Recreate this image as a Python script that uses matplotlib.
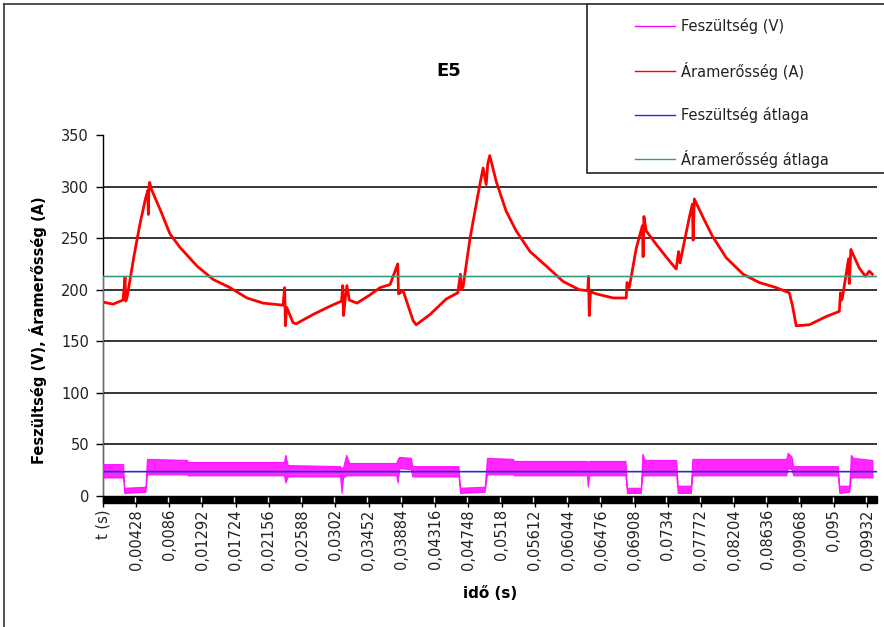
import numpy as np
import matplotlib
matplotlib.use("Agg")
import matplotlib.pyplot as plt
from matplotlib.lines import Line2D
from matplotlib.patches import Rectangle

# ----------------- DATA -----------------
# current, Áramerősség (A): time in ms, value in A
cur_t = [0.0, 1.3, 2.6, 2.85, 2.95, 3.15, 4.0, 4.8, 5.5, 5.8, 5.88, 5.95, 6.05, 6.3,
         7.4, 8.7, 10.0, 12.2, 14.3, 16.5, 18.7, 20.8, 23.4, 23.6, 23.7, 23.85,
         24.7, 25.1, 27.3, 29.5, 31.0, 31.15, 31.25, 31.5, 31.7, 32.0, 33.0, 34.7,
         36.0, 37.3, 38.3, 38.4, 39.0, 40.3, 40.7, 42.5, 44.6, 46.1, 46.45, 46.6,
         46.8, 47.7, 48.9, 49.4, 49.8, 50.0, 50.26, 50.6, 51.1, 52.4, 53.7, 55.5,
         57.6, 59.8, 61.9, 63.0, 63.1, 63.2, 63.35, 64.1, 66.3, 68.0, 68.1, 68.4,
         69.3, 70.1, 70.2, 70.3, 70.6, 71.9, 73.6, 74.5, 74.8, 75.0, 75.4, 76.2,
         76.6, 76.7, 76.85, 78.0, 79.2, 81.0, 83.2, 85.3, 87.5, 89.2, 89.6, 90.1,
         91.8, 94.0, 95.7, 95.85, 96.0, 96.1, 96.9, 97.0, 97.2, 98.3, 99.1, 99.6, 100.0]
cur_v = [188, 186, 190, 212, 189, 194, 232, 264, 288, 296, 273, 299, 304, 297,
         278, 254, 241, 223, 210, 202, 192, 187, 185, 202, 165, 183,
         168, 167, 176, 184, 189, 204, 175, 193, 204, 190, 187, 195,
         202, 205, 225, 196, 199, 170, 166, 176, 191, 197, 215, 200,
         203, 250, 299, 318, 302, 322, 330, 320, 305, 276, 257, 237,
         223, 208, 200, 199, 213, 175, 198, 196, 192, 192, 207, 202,
         240, 262, 232, 271, 257, 244, 228, 220, 237, 226, 241, 270,
         283, 248, 288, 270, 252, 231, 215, 207, 202, 197, 185, 165,
         166, 174, 179, 197, 190, 192, 230, 206, 239, 221, 213, 218, 215]

# voltage, Feszültség (V): the trace is a dense band, kept as low / high envelope
volt_t = [0.0, 2.6, 2.75, 5.5, 5.7, 10.9, 11.0, 23.5, 23.7, 24.0, 30.8, 31.0, 31.2,
          31.6, 32.0, 38.1, 38.3, 38.5, 40.0, 40.2, 46.2, 46.4, 49.6, 49.9, 53.3,
          53.4, 62.9, 63.0, 63.2, 67.9, 68.1, 69.9, 70.1, 70.4, 74.5, 74.7, 76.4,
          76.6, 88.8, 89.0, 89.5, 89.7, 95.5, 95.7, 97.0, 97.2, 97.5, 100.0]
volt_lo = [18, 18, 3, 4, 21, 21, 20, 20, 13, 19, 19, 3, 18,
           20, 20, 20, 13, 27, 26, 19, 19, 3, 4, 21, 21,
           20, 20, 9, 20, 20, 3, 3, 20, 20, 20, 3, 3,
           20, 20, 27, 26, 20, 20, 3, 4, 18, 18, 18]
volt_hi = [31, 31, 8, 9, 36, 35, 33, 33, 40, 30, 29, 27, 28,
           40, 32, 32, 36, 38, 37, 29, 29, 8, 9, 37, 36,
           34, 34, 33, 34, 34, 8, 8, 41, 35, 35, 10, 10,
           36, 36, 42, 38, 29, 29, 10, 10, 40, 37, 35]

# averages (first category is the header row -> 0)
avg_t = [-0.02, 0.0, 100.6]
volt_avg = [0, 23.6, 23.6]
cur_avg = [0, 212.8, 212.8]

# category labels shown on the time axis (s)
tick_vals = [0.00428, 0.0086, 0.01292, 0.01724, 0.02156, 0.02588, 0.0302, 0.03452,
             0.03884, 0.04316, 0.04748, 0.0518, 0.05612, 0.06044, 0.06476, 0.06908,
             0.0734, 0.07772, 0.08204, 0.08636, 0.09068, 0.095, 0.09932]
y_ticks = [0, 50, 100, 150, 200, 250, 300, 350]

series_names = ["Feszültség (V)", "Áramerősség (A)", "Feszültség átlaga", "Áramerősség átlaga"]
series_colors = ["#ff00ff", "#ff0000", "#2b2bd0", "#3a9a80"]
# -----------------------------------------------------------------

W, H = 884, 627
fig = plt.figure(figsize=(W / 100, H / 100), dpi=100)
ax = fig.add_axes([103 / W, 1 - 496 / H, (877 - 103) / W, (496 - 135) / H])

ms = 1 / 1000.0
ax.fill_between(np.array(volt_t) * ms, volt_lo, volt_hi, color=series_colors[0],
                lw=0.8, alpha=0.85, zorder=3)
ax.plot(np.array(cur_t) * ms, cur_v, color=series_colors[1], lw=2.0, zorder=4)
ax.plot(np.array(avg_t) * ms, volt_avg, color=series_colors[2], lw=1.2, zorder=5)
ax.plot(np.array(avg_t) * ms, cur_avg, color=series_colors[3], lw=1.2, zorder=5)

ax.set_xlim(-0.013 * ms, 100.6 * ms)
ax.set_ylim(0, 350)

# gridlines
for yv in y_ticks[1:-1]:
    ax.axhline(yv, color="black", lw=1.1, zorder=1)

ax.spines["top"].set_visible(False)
ax.spines["right"].set_visible(False)
ax.spines["bottom"].set_visible(False)
ax.spines["left"].set_color("black")
ax.spines["left"].set_linewidth(1.0)

ax.set_yticks(y_ticks)
ax.set_yticklabels([str(v) for v in y_ticks])
ax.tick_params(axis="y", direction="out", length=5, width=1, pad=5,
               labelsize=10.5, colors="black", labelcolor="#222222")

xt = [0.0] + tick_vals
ax.set_xticks(xt)
ax.set_xticklabels(["t (s)"] + [str(v).replace(".", ",") for v in tick_vals],
                   rotation=90)
ax.tick_params(axis="x", direction="out", length=8, width=1, pad=1.5,
               labelsize=10.5, colors="black", labelcolor="#222222")

# dense category ticks -> black band under the axis
band_h = 7 / (496 - 135)
ax.add_patch(Rectangle((ax.get_xlim()[0], -band_h), ax.get_xlim()[1] - ax.get_xlim()[0],
                       band_h, transform=ax.get_xaxis_transform(), color="black",
                       clip_on=False, zorder=6))
ax.vlines([v - 0.00018 for v in xt[1:]], -band_h * 0.9, -0.002,
          transform=ax.get_xaxis_transform(), color="white", lw=1.0,
          clip_on=False, zorder=7)

fig.text(448.6 / W, 1 - 71.5 / H, "E5", ha="center", va="center",
         fontsize=13, fontweight="bold")
fig.text(490 / W, 1 - 594 / H, "idő (s)", ha="center", va="center",
         fontsize=11, fontweight="bold")
fig.text(38 / W, 1 - 330 / H, "Feszültség (V), Áramerősség (A)", ha="center",
         va="center", rotation=90, fontsize=10.5, fontweight="bold")

# chart area border (partly outside the crop)
fig.add_artist(Line2D([4 / W, 587 / W], [1 - 4 / H, 1 - 4 / H], color="#333333", lw=1.2))
fig.add_artist(Line2D([4 / W, 4 / W], [1 - 4 / H, 0], color="#333333", lw=1.2))

# legend box
fig.add_artist(Rectangle((587 / W, 1 - 173 / H), (895 - 587) / W, 169 / H,
                         transform=fig.transFigure, facecolor="white",
                         edgecolor="#222222", lw=1.2))
row_y = [26, 70.7, 115, 159.3]
for name, col, yy in zip(series_names, series_colors, row_y):
    fig.add_artist(Line2D([635 / W, 675 / W], [1 - yy / H, 1 - yy / H], color=col, lw=1.0))
    fig.text(681 / W, 1 - yy / H, name, ha="left", va="center", fontsize=10.5,
             color="#222222")

fig.savefig("out.png", dpi=100)
